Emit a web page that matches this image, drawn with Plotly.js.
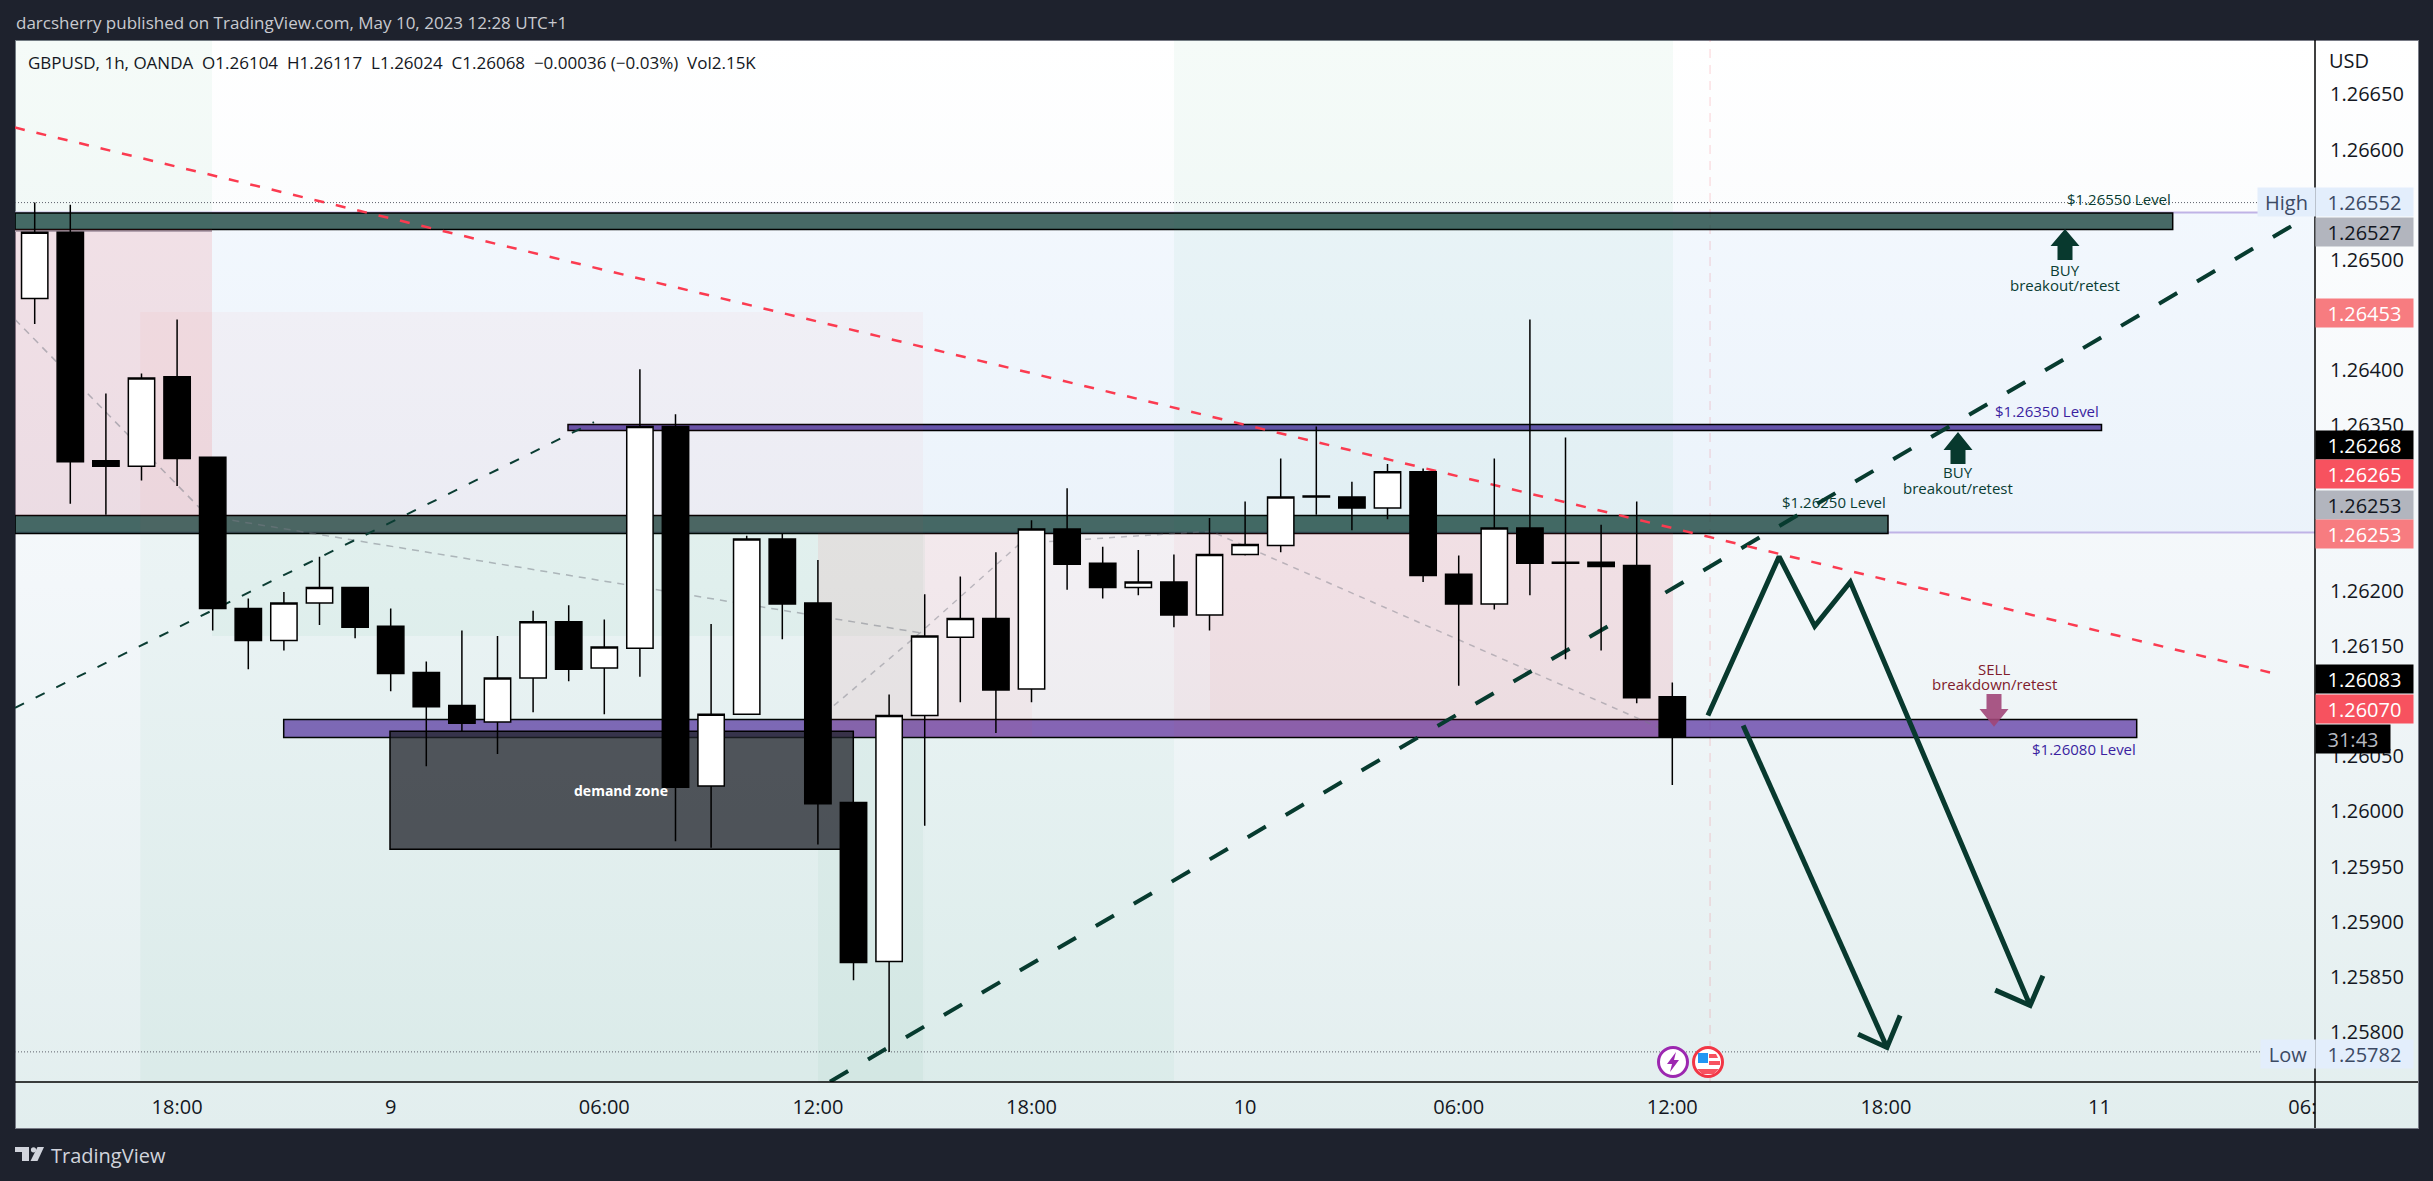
<!DOCTYPE html>
<html>
<head>
<meta charset="utf-8">
<script src="https://cdn.plot.ly/plotly-3.0.1.min.js"></script>
<style>
html,body{margin:0;padding:0;background:#1e222d;width:2433px;height:1181px;overflow:hidden}
#frame{position:absolute;left:15px;top:40px;width:2402px;height:1087px;border:1px solid #787b86;
background:linear-gradient(180deg,#ffffff 0%,#f3f7fa 50%,#e2eeee 100%)}
#chart{position:absolute;left:0;top:0;width:2433px;height:1181px}
</style>
</head>
<body>
<div id="frame"></div>
<div id="chart"></div>
<script>
// ---------- candles, GBPUSD 1h ----------
const open  = [1.26465,1.26525,1.26318,1.26313,1.26394,1.26321,1.26184,1.26155,1.26189,1.26203,1.26168,1.26126,1.26096,1.26081,1.26121,1.26172,1.26130,1.26148,1.26349,1.26023,1.26088,1.26247,1.26189,1.26008,1.25864,1.26087,1.26158,1.26175,1.26111,1.26256,1.26225,1.26203,1.26208,1.26178,1.26233,1.26241,1.26285,1.26285,1.26275,1.26308,1.26215,1.26188,1.26257,1.26225,1.26226,1.26223,1.26104];
const high  = [1.26552,1.26550,1.26379,1.26397,1.26446,1.26321,1.26193,1.26199,1.26231,1.26203,1.26184,1.26136,1.26164,1.26159,1.26182,1.26187,1.26174,1.26401,1.26360,1.26170,1.26250,1.26252,1.26228,1.26008,1.26106,1.26197,1.26213,1.26235,1.26264,1.26293,1.26240,1.26237,1.26233,1.26266,1.26281,1.26320,1.26349,1.26299,1.26315,1.26311,1.26232,1.26320,1.26446,1.26339,1.26260,1.26281,1.26117];
const low   = [1.26442,1.26279,1.26269,1.26300,1.26295,1.26164,1.26129,1.26146,1.26169,1.26157,1.26109,1.26041,1.26073,1.26052,1.26090,1.26118,1.26088,1.26122,1.25973,1.25967,1.26088,1.26156,1.25970,1.25847,1.25782,1.25987,1.26099,1.26071,1.26099,1.26201,1.26193,1.26196,1.26167,1.26164,1.26232,1.26235,1.26269,1.26255,1.26265,1.26208,1.26114,1.26183,1.26196,1.26138,1.26146,1.26098,1.26024];
const close = [1.26525,1.26317,1.26313,1.26393,1.26320,1.26184,1.26155,1.26189,1.26203,1.26167,1.26125,1.26095,1.26080,1.26121,1.26172,1.26129,1.26149,1.26349,1.26022,1.26088,1.26247,1.26188,1.26007,1.25863,1.26087,1.26159,1.26175,1.26110,1.26256,1.26224,1.26203,1.26208,1.26178,1.26233,1.26242,1.26285,1.26286,1.26275,1.26308,1.26214,1.26188,1.26257,1.26225,1.26226,1.26222,1.26103,1.26068];
const barIndex = open.map((_, i) => i);

// ---------- axis ticks ----------
const priceTicks = [1.26650,1.26600,1.26500,1.26400,1.26350,1.26200,1.26150,1.26050,1.26000,1.25950,1.25900,1.25850,1.25800];
const timeTicks  = [4,10,16,22,28,34,40,46,52,58,63.7];
const timeLabels = ['18:00','9','06:00','12:00','18:00','10','06:00','12:00','18:00','11','06:'];

// ---------- drawn lines ----------
const redTrendX = [-0.553,62.79],  redTrendY = [1.26620,1.26126];
const thinTrendX = [-0.553,15.71], thinTrendY = [1.26094,1.26353];
const thickTrendX = [22.34,63.41], thickTrendY = [1.25755,1.26531];
const greyOneX = [-0.553,4.64,5.35,24.87], greyOneY = [1.26446,1.26275,1.26265,1.26162];
const greyTwoX = [22.45,24.87,27.68,33.04,45.63], greyTwoY = [1.26096,1.26162,1.26243,1.26254,1.26076];
const pathOneX = [47.0,49.0,50.0,51.0,56.05], pathOneY = [1.26087,1.26231,1.26168,1.26208,1.25824];
const headOneX = [56.41,56.05,55.07], headOneY = [1.25851,1.25824,1.25838];
const pathTwoX = [47.99,52.03], pathTwoY = [1.26078,1.25786];
const headTwoX = [52.40,52.03,51.22], headTwoY = [1.25815,1.25786,1.25798];
const highPrice = 1.26552, lowPrice = 1.25782;

// ---------- conversions for layout items read in page pixels ----------
const PL = 15, PR = 2315, PT = 40, PB = 1082;
const XMIN = -0.5534, XMAX = 64.053, YMIN = 1.257547, YMAX = 1.266994;
const ax = px => XMIN + (px - PL) / (PR - PL) * (XMAX - XMIN);
const ay = py => YMAX - (py - PT) / (PB - PT) * (YMAX - YMIN);
const fx = px => (px - PL) / (PR - PL);
const fy = py => 1 - (py - PT) / (PB - PT);

const shapes = [];
function zone(x0, y0, x1, y1, fill, line) {
  shapes.push({type:'rect', layer:'below', xref:'x', yref:'y', x0:ax(x0), x1:ax(x1), y0:ay(y0), y1:ay(y1),
    fillcolor:fill, line:{width:line?1.5:0, color:line||'rgba(0,0,0,0)'}});
}
function polyline(xs, ys, color, width, dash) {
  const d = xs.map((v, i) => (i ? 'L' : 'M') + v + ',' + ys[i]).join(' ');
  shapes.push({type:'path', layer:'below', xref:'x', yref:'y', path:d, line:{color, width, dash}});
}
function pxPath(pts, fill, color, width, layer) {
  const d = pts.map((p, i) => (i ? 'L' : 'M') + fx(p[0]) + ',' + fy(p[1])).join(' ') + ' Z';
  shapes.push({type:'path', layer:layer||'above', xref:'paper', yref:'paper', path:d, fillcolor:fill,
    line:{color:color||'rgba(0,0,0,0)', width:width||0}});
}
function pxLine(x0, y0, x1, y1, color, width) {
  shapes.push({type:'line', layer:'above', xref:'paper', yref:'paper', x0:fx(x0), x1:fx(x1), y0:fy(y0), y1:fy(y1),
    line:{color, width}});
}
function pxCircle(cx, cy, r, fill, color, width) {
  shapes.push({type:'circle', layer:'above', xref:'paper', yref:'paper', x0:fx(cx-r), x1:fx(cx+r), y0:fy(cy-r), y1:fy(cy+r),
    fillcolor:fill, line:{color, width}});
}
function blockArrow(cx, tip, base, end, color) {
  pxPath([[cx,tip],[cx+14.5,base],[cx+7.5,base],[cx+7.5,end],[cx-7.5,end],[cx-7.5,base],[cx-14.5,base]], color);
}

// tinted channel with lilac edges
zone(15, 212.5, 2315, 532.5, 'rgba(33,120,243,0.04)');
// level bands
zone(15, 213, 2172.7, 229.5, 'rgba(14,58,51,0.75)', '#000');
zone(15, 515.5, 1888, 533.5, 'rgba(14,58,51,0.75)', '#000');
zone(568, 424.5, 2101.5, 430.5, 'rgba(66,44,150,0.8)', '#000');
zone(283.7, 719.5, 2136.7, 737.5, 'rgba(93,56,164,0.75)', '#000');
// translucent position boxes
const GREEN = a => `rgba(8,153,80,${a})`, PINK = a => `rgba(242,54,69,${a})`;
zone(15, 40, 212, 229, GREEN(0.04));
zone(15, 229, 212, 515.5, PINK(0.12));
zone(140.3, 312, 923, 533, PINK(0.035));
zone(140.3, 533, 923, 1082, GREEN(0.035));
zone(212, 533, 818, 636, GREEN(0.04));
zone(818, 533, 925, 636, GREEN(0.04));
zone(818, 737, 925, 1082, GREEN(0.035));
zone(925, 737, 1174, 1082, GREEN(0.03));
zone(1174, 40, 1673, 531, GREEN(0.04));
zone(818, 533, 1673, 737, PINK(0.04));
zone(818, 533, 1032, 737, PINK(0.035));
zone(1174, 533, 1673, 737, PINK(0.04));
zone(1210, 533, 1673, 737, PINK(0.045));
// demand zone stays a neutral grey, on top of the tints
zone(390, 731.3, 853.3, 849.3, 'rgba(32,34,42,0.76)', '#000');

// channel edges + dotted high/low + session marker
shapes.push({type:'line', layer:'below', xref:'paper', yref:'y', x0:0, x1:1, y0:ay(212.5), y1:ay(212.5), line:{color:'#c4b5e6', width:2}});
shapes.push({type:'line', layer:'below', xref:'paper', yref:'y', x0:0, x1:1, y0:ay(532.5), y1:ay(532.5), line:{color:'#c4b5e6', width:2}});
shapes.push({type:'line', layer:'below', xref:'paper', yref:'y', x0:0, x1:fx(212), y0:ay(231), y1:ay(231), line:{color:'#b2b5be', width:2}});
polyline([XMIN, ax(2257)], [highPrice, highPrice], '#5d606b', 1, '1px,2px');
polyline([XMIN, ax(2260)], [lowPrice, lowPrice], '#5d606b', 1, '1px,2px');
shapes.push({type:'line', layer:'below', xref:'x', yref:'paper', x0:47.06, x1:47.06, y0:0, y1:1, line:{color:'rgba(242,54,69,0.15)', width:1.5, dash:'9px,7px'}});
// trend lines sit behind the candles
polyline(greyOneX, greyOneY, 'rgba(120,123,134,0.5)', 1.5, '7px,6px');
polyline(greyTwoX, greyTwoY, 'rgba(120,123,134,0.45)', 1.5, '6px,6px');
polyline(thinTrendX, thinTrendY, '#0b3d33', 2, '10px,13px');
polyline(thickTrendX, thickTrendY, '#073b2f', 4, '21px,23px');
polyline(redTrendX, redTrendY, '#fb3b50', 2.5, '10px,12px');

// price scale / time scale rules
pxLine(2315, 40, 2315, 1128, '#000', 1.5);
pxLine(15, 1082, 2418, 1082, '#000', 1.5);

// block arrows
blockArrow(2065, 229, 246, 260, '#08392e');
blockArrow(1958, 432, 450, 464, '#08392e');
pxPath([[1994,726.7],[1979.5,709],[1986.5,709],[1986.5,694],[2001.5,694],[2001.5,709],[2008.5,709]], 'rgba(160,70,120,0.9)');

// event badges
pxCircle(1673, 1062, 14.5, '#ffffff', '#9c27b0', 3);
pxPath([[1676,1052],[1667,1064],[1672,1064],[1670,1072],[1679,1060],[1674,1060]], '#9c27b0');
pxCircle(1708, 1062, 14.5, '#ffffff', '#f23645', 3);
pxPath([[1698,1053],[1708,1053],[1708,1063],[1698,1063]], '#2196f3');
pxPath([[1709,1054],[1716,1054],[1718,1058],[1709,1058]], '#f7525f');
pxPath([[1709,1061],[1720,1061],[1720,1065],[1709,1065]], '#f7525f');
pxPath([[1697,1069],[1719,1069],[1714,1074],[1702,1074]], '#f7525f');

// TradingView logo
pxPath([[15,1147],[29,1147],[29,1161],[22,1161],[22,1152],[15,1152]], '#d1d4dc');
pxCircle(33.5, 1149.8, 2.6, '#d1d4dc', '#d1d4dc', 0);
pxPath([[37.5,1147],[44,1147],[37.5,1161],[30.5,1161]], '#d1d4dc');

// ---------- text ----------
const UI = '"Open Sans", sans-serif';
const annotations = [];
function txt(text, px, py, color, size, anchor, extra) {
  annotations.push(Object.assign({text, x:fx(px), y:fy(py), xref:'paper', yref:'paper', showarrow:false,
    xanchor:anchor||'center', yanchor:'middle', font:{family:UI, size, color}, borderpad:0}, extra||{}));
}
function tag(text, x0, x1, yc, bg, fg, h) {
  annotations.push({text, x:fx(x0), y:fy(yc), xref:'paper', yref:'paper', showarrow:false, xanchor:'left', yanchor:'middle',
    width:x1-x0, height:h||28, bgcolor:bg, borderpad:0, align:'center', valign:'middle', font:{family:UI, size:20, color:fg}});
}
txt('darcsherry published on TradingView.com, May 10, 2023 12:28 UTC+1', 15, 22.5, '#c8cad0', 17, 'left');
txt('GBPUSD, 1h, OANDA&nbsp;&nbsp;O1.26104&nbsp;&nbsp;H1.26117&nbsp;&nbsp;L1.26024&nbsp;&nbsp;C1.26068&nbsp;&nbsp;\u22120.00036 (\u22120.03%)&nbsp;&nbsp;Vol2.15K', 27, 63, '#131722', 17, 'left');
txt('USD', 2328, 60.5, '#131722', 20, 'left');
txt('TradingView', 49.5, 1155.5, '#d1d4dc', 20, 'left');

txt('$1.26550 Level', 2118.5, 199, '#0a3d33', 15);
txt('$1.26350 Level', 2047.5, 410.5, '#3a1fa0', 15);
txt('$1.26250 Level', 1833.5, 501.5, '#0a3d33', 15);
txt('$1.26080 Level', 2083.5, 749, '#3a1fa0', 15);
txt('BUY', 2065, 270, '#0a3d33', 15);
txt('breakout/retest', 2065, 285, '#0a3d33', 15);
txt('BUY', 1958, 472.5, '#0a3d33', 15);
txt('breakout/retest', 1958, 488, '#0a3d33', 15);
txt('SELL', 1994, 668.5, '#801b2c', 15);
txt('breakdown/retest', 1994, 684, '#801b2c', 15);
txt('<b>demand zone</b>', 621, 790, '#ffffff', 14);

tag('High', 2257, 2314, 201.5, '#e3eefc', '#3c4a64');
tag('1.26552', 2315, 2412, 201.5, '#e3eefc', '#3c4a64');
tag('1.26527', 2315, 2412, 231.5, '#b2b5be', '#131722');
tag('1.26453', 2315, 2412, 312.5, '#f77c80', '#ffffff');
tag('1.26268', 2315, 2412, 445, '#000000', '#ffffff');
tag('1.26265', 2315, 2412, 474.5, '#f7525f', '#ffffff');
tag('1.26253', 2315, 2412, 504.5, '#b2b5be', '#131722');
tag('1.26253', 2315, 2412, 533.5, '#f77c80', '#ffffff');
tag('1.26083', 2315, 2412, 679, '#000000', '#ffffff');
tag('1.26070', 2315, 2412, 708.5, '#f7525f', '#ffffff');
tag('31:43', 2315, 2389, 738.5, '#000000', '#b8bac0');
tag('Low', 2260, 2314, 1053.5, '#e3eefc', '#3c4a64');
tag('1.25782', 2315, 2412, 1053.5, '#e3eefc', '#3c4a64');

// ---------- traces ----------
const candle = {
  type:'candlestick', x:barIndex, open, high, low, close, whiskerwidth:0, hoverinfo:'skip',
  increasing:{line:{color:'#000', width:1.5}, fillcolor:'#ffffff'},
  decreasing:{line:{color:'#000', width:1.5}, fillcolor:'#000000'}
};
const arrowLine = {color:'#08392e', width:5};
const traces = [candle,
  {type:'scatter', mode:'lines', x:pathOneX, y:pathOneY, line:arrowLine, hoverinfo:'skip'},
  {type:'scatter', mode:'lines', x:headOneX, y:headOneY, line:arrowLine, hoverinfo:'skip'},
  {type:'scatter', mode:'lines', x:pathTwoX, y:pathTwoY, line:arrowLine, hoverinfo:'skip'},
  {type:'scatter', mode:'lines', x:headTwoX, y:headTwoY, line:arrowLine, hoverinfo:'skip'}
];

const layout = {
  width:2433, height:1181, showlegend:false, hovermode:false,
  paper_bgcolor:'rgba(0,0,0,0)', plot_bgcolor:'rgba(0,0,0,0)',
  margin:{l:PL, r:2433-PR, t:PT, b:1181-PB, pad:0},
  boxgap:0.26, boxgroupgap:0,
  xaxis:{range:[XMIN,XMAX], rangeslider:{visible:false}, showgrid:false, zeroline:false, showline:false,
    tickmode:'array', tickvals:timeTicks, ticktext:timeLabels, ticks:'outside', ticklen:7, tickcolor:'rgba(0,0,0,0)',
    tickfont:{family:UI, size:20, color:'#131722'}},
  yaxis:{range:[YMIN,YMAX], side:'right', showgrid:false, zeroline:false, showline:false,
    tickmode:'array', tickvals:priceTicks, ticktext:priceTicks.map(v => v.toFixed(5)), ticks:'outside', ticklen:10, tickcolor:'rgba(0,0,0,0)',
    tickfont:{family:UI, size:20, color:'#131722'}},
  shapes, annotations
};
Plotly.newPlot('chart', traces, layout, {displayModeBar:false, staticPlot:true});
</script>
</body>
</html>
